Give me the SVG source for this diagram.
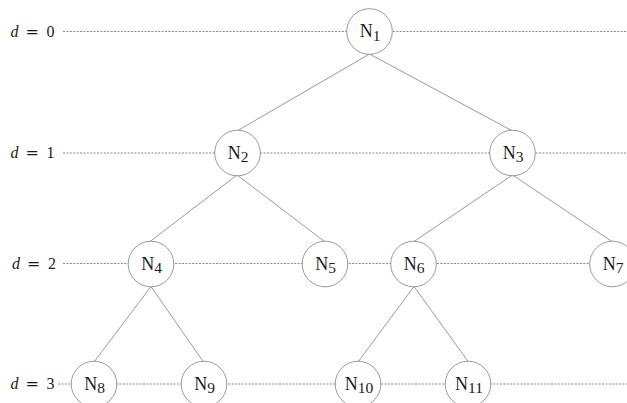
<svg xmlns="http://www.w3.org/2000/svg" width="627" height="403" viewBox="0 0 627 403">
<style>
.lvl{stroke:#555;stroke-width:0.7;stroke-dasharray:2 1.4;fill:none}
.edge{stroke:#808080;stroke-width:0.8;fill:none}
.node circle{fill:#fff;stroke:#808080;stroke-width:0.8}
.lbl{font-family:"Liberation Serif",serif;font-size:18px;fill:#1a1a1a;text-anchor:middle}
.sub{font-size:15.5px}
.dl{font-family:"Liberation Serif",serif;font-size:16px;fill:#1a1a1a}
.eq{font-family:"DejaVu Serif",serif;font-size:16px}
</style>
<g id="levels">
<line class="lvl" x1="63" y1="31.5" x2="627" y2="31.5"/>
<line class="lvl" x1="63" y1="153" x2="627" y2="153"/>
<line class="lvl" x1="63" y1="263.5" x2="627" y2="263.5"/>
<line class="lvl" x1="58" y1="384" x2="627" y2="384"/>
<text class="dl" y="36.5"><tspan x="10.5" font-style="italic">d</tspan><tspan class="eq" x="25.5">=</tspan><tspan x="46.5">0</tspan></text>
<text class="dl" y="158"><tspan x="10.5" font-style="italic">d</tspan><tspan class="eq" x="25.5">=</tspan><tspan x="46.5">1</tspan></text>
<text class="dl" y="268.5"><tspan x="12" font-style="italic">d</tspan><tspan class="eq" x="27">=</tspan><tspan x="48">2</tspan></text>
<text class="dl" y="389"><tspan x="10.5" font-style="italic">d</tspan><tspan class="eq" x="25.5">=</tspan><tspan x="46.5">3</tspan></text>
</g>
<g id="connectors">
<line class="edge" x1="369.5" y1="54" x2="237" y2="131"/>
<line class="edge" x1="369.5" y1="54" x2="512.5" y2="131"/>
<line class="edge" x1="237" y1="175" x2="150" y2="241.5"/>
<line class="edge" x1="237" y1="175" x2="324.5" y2="241.5"/>
<line class="edge" x1="512.5" y1="175" x2="414" y2="241.5"/>
<line class="edge" x1="512.5" y1="175" x2="612" y2="241.5"/>
<line class="edge" x1="151" y1="286.5" x2="94" y2="362"/>
<line class="edge" x1="151" y1="286.5" x2="203.5" y2="362"/>
<line class="edge" x1="414" y1="286.5" x2="358" y2="362"/>
<line class="edge" x1="414" y1="286.5" x2="468.5" y2="362"/>
</g>
<g id="N1" class="node"><circle cx="369.5" cy="31.5" r="22.8"/><text class="lbl" x="370" y="37">N<tspan class="sub" dy="3.5">1</tspan></text></g>
<g id="N2" class="node"><circle cx="237.5" cy="153" r="22.8"/><text class="lbl" x="238" y="158.5">N<tspan class="sub" dy="3.5">2</tspan></text></g>
<g id="N3" class="node"><circle cx="512.5" cy="153" r="22.8"/><text class="lbl" x="513" y="158.5">N<tspan class="sub" dy="3.5">3</tspan></text></g>
<g id="N4" class="node"><circle cx="151" cy="264" r="22.8"/><text class="lbl" x="151.5" y="269.5">N<tspan class="sub" dy="3.5">4</tspan></text></g>
<g id="N5" class="node"><circle cx="325" cy="264" r="22.8"/><text class="lbl" x="325.5" y="269.5">N<tspan class="sub" dy="3.5">5</tspan></text></g>
<g id="N6" class="node"><circle cx="413.5" cy="264" r="22.8"/><text class="lbl" x="414" y="269.5">N<tspan class="sub" dy="3.5">6</tspan></text></g>
<g id="N7" class="node"><circle cx="612.5" cy="264" r="22.8"/><text class="lbl" x="613" y="269.5">N<tspan class="sub" dy="3.5">7</tspan></text></g>
<g id="N8" class="node"><circle cx="94" cy="384" r="22.8"/><text class="lbl" x="94.5" y="389.5">N<tspan class="sub" dy="3.5">8</tspan></text></g>
<g id="N9" class="node"><circle cx="204" cy="384" r="22.8"/><text class="lbl" x="204.5" y="389.5">N<tspan class="sub" dy="3.5">9</tspan></text></g>
<g id="N10" class="node"><circle cx="358" cy="384" r="22.8"/><text class="lbl" x="359" y="389.5">N<tspan class="sub" dy="3.5">10</tspan></text></g>
<g id="N11" class="node"><circle cx="468" cy="384" r="22.8"/><text class="lbl" x="469" y="389.5">N<tspan class="sub" dy="3.5">11</tspan></text></g>
</svg>
